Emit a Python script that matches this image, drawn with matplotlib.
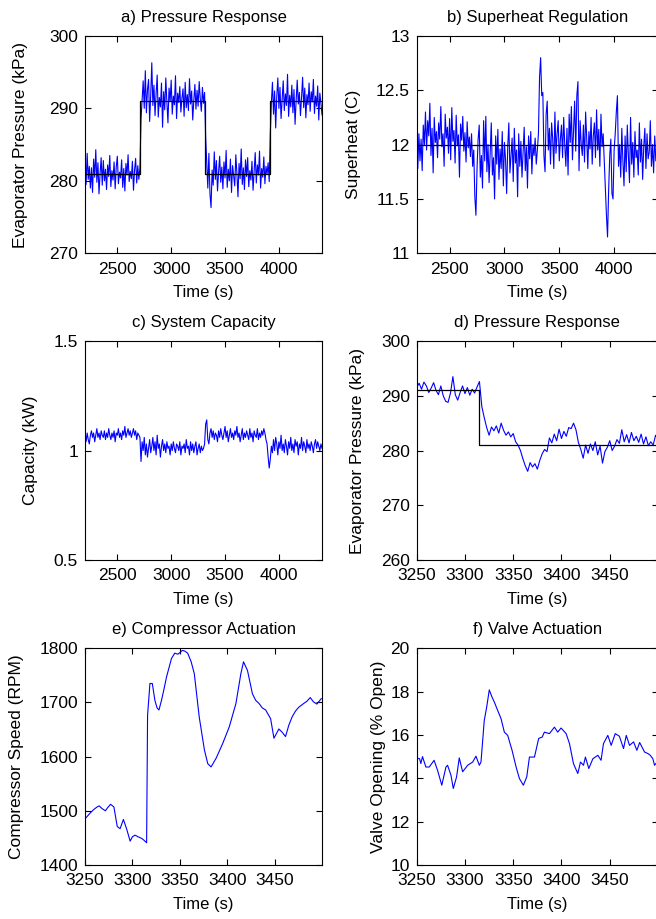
import numpy as np
import matplotlib
matplotlib.use("Agg")
import matplotlib.pyplot as plt
from matplotlib.ticker import FormatStrFormatter

plt.rcParams['font.family'] = ['Liberation Sans', 'DejaVu Sans']
plt.rcParams['font.size'] = 12

# a) evaporator pressure, 10 s samples from 2200 s to 4400 s
press_long = [
    281.5, 279.5, 283.8, 280.2, 282.0, 279.0, 281.8, 278.4, 283.0, 280.5,
    284.3, 279.8, 282.5, 278.2, 281.0, 283.2, 279.4, 282.8, 280.0, 281.6,
    278.8, 282.2, 280.6, 283.5, 279.2, 281.4, 280.1, 282.6, 278.9, 281.9,
    283.4, 279.6, 281.2, 280.4, 282.9, 279.1, 281.7, 278.6, 282.4, 280.8,
    283.6, 279.9, 281.3, 280.3, 282.7, 278.7, 281.5, 283.1, 279.7, 282.1,
    280.2, 281.8,
    288.5, 291.2, 293.8, 290.0, 295.2, 289.4, 292.6, 294.0, 288.2, 291.8,
    296.3, 290.4, 293.2, 289.0, 292.0, 294.6, 288.8, 291.5, 290.2, 293.5,
    287.4, 292.3, 289.8, 294.2, 290.9, 288.0, 292.8, 291.0, 293.9, 289.2,
    291.7, 290.5, 294.5, 288.6, 292.1, 290.8, 293.0, 289.5, 291.4, 292.7,
    288.9, 293.6, 290.1, 291.9, 289.7, 294.1, 290.6, 292.4, 288.4, 291.1,
    293.3, 289.9, 292.5, 290.3, 293.7, 291.3, 289.6, 292.9, 290.7, 292.2,
    286.0, 282.5, 279.0, 283.8, 278.2, 276.3, 281.5, 279.4, 284.0, 280.2,
    282.8, 278.6, 281.2, 283.4, 279.8, 281.9, 278.9, 282.6, 280.4, 284.2,
    279.1, 281.6, 280.0, 283.0, 278.4, 282.1, 280.7, 279.3, 283.6, 281.0,
    277.8, 282.4, 280.3, 284.4, 279.5, 281.8, 278.8, 282.9, 280.6, 283.2,
    279.2, 281.4, 280.1, 282.7, 278.7, 281.3, 283.9, 279.7, 282.2, 280.8,
    284.1, 279.0, 281.7, 280.5, 283.3, 279.6, 282.0, 280.9, 282.5, 279.9,
    286.5, 290.8, 293.6, 289.2, 292.4, 287.3, 291.6, 294.2, 290.0, 292.9,
    288.6, 291.3, 293.8, 289.7, 292.0, 290.4, 294.7, 288.9, 291.8, 290.2,
    293.2, 289.4, 292.6, 287.8, 291.1, 293.9, 290.6, 292.2, 289.0, 291.5,
    294.3, 290.1, 292.8, 288.7, 291.9, 290.5, 293.5, 289.6, 292.3, 290.9,
    294.0, 289.3, 291.7, 290.3, 293.1, 288.4, 292.1, 290.7, 289.1,
]
sp_time = [2200, 2715, 2715, 3315, 3315, 3915, 3915, 4400]
sp_press = [281, 281, 291, 291, 281, 281, 291, 291]

# b) superheat
superheat = [
    12.45, 11.78, 12.10, 11.85, 12.05, 11.76, 12.18, 12.00, 12.30, 11.95,
    12.22, 12.08, 12.38, 11.90, 12.15, 11.74, 12.25, 12.02, 12.12, 11.88,
    12.20, 12.05, 12.35, 11.98, 12.10, 11.80, 12.28, 12.06, 12.16, 11.92,
    12.24, 11.86, 12.34, 12.03, 12.13, 11.83, 12.27, 11.99, 12.09, 11.70,
    12.19, 12.04, 12.26, 11.94, 12.11, 11.84, 12.21, 11.97, 12.07, 11.89,
    12.10, 11.80, 11.95, 11.52, 11.35, 11.78, 12.05, 12.18, 11.70, 11.90,
    11.60, 12.22, 11.85, 12.26, 11.75, 12.00, 11.65, 11.92, 12.20, 11.72,
    11.88, 11.50, 12.08, 11.82, 12.14, 11.68, 11.96, 11.78, 12.12, 11.62,
    12.02, 11.86, 11.55, 11.98, 12.20, 11.74, 11.90, 12.06, 11.66, 12.15,
    11.83, 11.95, 11.52, 12.10, 11.80, 12.03, 11.70, 11.93, 12.16, 11.76,
    11.98, 11.60, 12.08, 11.87, 12.12, 11.73, 12.00, 11.90, 12.06, 11.82,
    11.95, 12.10,
    12.62, 12.80, 12.45, 12.48, 11.90, 11.75, 12.28, 12.40, 11.95, 12.15,
    11.82, 12.20, 12.05, 11.78, 12.30, 11.92, 12.10, 12.22, 11.85, 12.05,
    12.18, 11.88, 12.25, 12.00, 11.80, 12.15, 11.72, 12.28, 12.02, 12.35,
    11.86, 12.12, 12.40, 11.94, 12.45, 12.58, 11.76, 12.22, 12.00, 11.90,
    12.18, 11.84, 12.30, 12.06, 11.78, 12.12, 11.96, 12.25, 11.82, 12.08,
    12.20, 11.88, 12.32, 11.95, 12.14, 11.80, 12.28, 11.98, 12.10, 11.86,
    11.60, 11.35, 11.15, 11.58, 11.90, 12.05, 11.55, 11.50, 11.95, 12.10,
    12.30, 12.45, 11.80, 12.00, 11.70, 12.15, 11.85, 11.62, 12.08, 11.75,
    12.18, 11.90, 11.65, 12.25, 11.82, 12.02, 11.70, 12.12, 11.88, 11.95,
    11.72, 12.20, 11.84, 12.05, 11.68, 11.98, 12.15, 11.78, 12.10, 11.87,
    11.93, 12.22, 11.80, 12.00, 11.74, 12.08, 11.85, 11.96, 11.90,
]
sh_time = [2200, 4400]
sh_set = [12, 12]

# c) capacity
capacity = [
    1.09, 1.04, 1.08, 1.05, 1.03, 1.07, 1.09, 1.06, 1.08, 1.04,
    1.07, 1.10, 1.06, 1.08, 1.05, 1.09, 1.07, 1.06, 1.09, 1.05,
    1.08, 1.06, 1.10, 1.07, 1.05, 1.08, 1.06, 1.09, 1.04, 1.08,
    1.07, 1.10, 1.06, 1.08, 1.05, 1.09, 1.07, 1.11, 1.06, 1.08,
    1.10, 1.07, 1.09, 1.06, 1.08, 1.10, 1.07, 1.09, 1.05, 1.08,
    1.07, 1.06,
    0.95, 1.04, 1.00, 1.06, 0.98, 1.03, 0.97, 1.01, 1.05, 0.99,
    1.02, 1.06, 1.00, 1.04, 0.98, 1.07, 1.01, 1.03, 0.97, 1.02,
    1.05, 1.00, 1.03, 0.99, 1.04, 1.01, 1.02, 0.98, 1.03, 1.00,
    1.04, 1.01, 0.99, 1.03, 1.02, 1.00, 1.04, 0.98, 1.02, 1.01,
    1.03, 0.99, 1.05, 1.01, 1.02, 0.98, 1.04, 1.00, 1.03, 0.99,
    1.02, 1.04, 0.98, 1.01, 1.03, 0.99, 1.02, 1.00, 1.01, 1.03,
    1.12, 1.14, 1.05, 1.03, 1.08, 1.10, 1.06, 1.09, 1.05, 1.08,
    1.07, 1.04, 1.09, 1.06, 1.10, 1.07, 1.05, 1.08, 1.11, 1.06,
    1.09, 1.04, 1.07, 1.10, 1.06, 1.08, 1.05, 1.09, 1.07, 1.11,
    1.06, 1.08, 1.04, 1.07, 1.10, 1.05, 1.08, 1.06, 1.09, 1.07,
    1.05, 1.10, 1.06, 1.08, 1.04, 1.09, 1.07, 1.06, 1.10, 1.05,
    1.08, 1.06, 1.09, 1.07, 1.10, 1.08, 1.05, 1.03, 0.97, 0.92,
    0.96, 1.02, 0.99, 1.05, 1.00, 1.06, 1.03, 0.98, 1.04, 1.01,
    1.07, 1.00, 1.03, 0.99, 1.05, 1.02, 0.98, 1.04, 1.01, 1.06,
    1.00, 1.03, 0.99, 1.05, 1.02, 1.04, 0.98, 1.03, 1.01, 1.06,
    1.00, 1.04, 1.02, 0.99, 1.05, 1.01, 1.03, 1.00, 1.04, 1.02,
    0.99, 1.03, 1.05, 1.01, 1.04, 1.02, 1.00, 1.03, 1.01,
]

# d) pressure zoom, 2.5 s samples from 3250 s to 3500 s
press_zoom = [
    291.5, 292.3, 291.2, 292.5, 291.8, 290.6, 291.4, 292.4, 291.0, 290.2,
    291.8, 290.0, 289.0, 288.8, 290.5, 293.5, 290.2, 289.2, 290.6, 291.8,
    290.4, 291.5, 290.1, 291.2, 290.5, 291.6, 292.6, 288.0, 286.0, 284.2,
    282.8, 284.3, 283.6, 284.5, 283.2, 285.0, 283.7, 282.8, 283.4, 282.5,
    283.1, 281.6, 281.0, 280.0, 278.5, 277.2, 276.2, 277.8, 277.0, 277.6,
    276.6, 278.2, 279.4, 280.2, 279.8, 282.3, 281.4, 283.0, 281.8, 283.9,
    282.2, 283.5, 282.6, 284.2, 284.0, 285.0, 283.8, 281.5, 280.2, 278.6,
    281.0, 279.5, 281.2, 280.0, 281.6, 279.2, 280.8, 277.7, 279.8, 280.6,
    281.8, 280.0, 280.8, 282.0, 281.3, 283.8, 281.6, 282.9, 281.4, 283.3,
    281.8, 282.6, 281.5, 283.0, 281.2, 282.5, 280.9, 281.6, 281.0, 282.8,
    281.9,
]
spz_time = [3250, 3315, 3315, 3500]
spz_press = [291, 291, 281, 281]

# e) compressor speed
comp_t = [3250.5, 3255, 3259, 3262.7, 3265, 3268, 3271.5, 3274, 3277, 3280.5,
          3284, 3287, 3290.5, 3294, 3297.6, 3300, 3302.8, 3306, 3309.8, 3312,
          3315, 3316, 3318.5, 3321, 3323.7, 3326, 3328, 3330.7, 3333, 3336,
          3341.2, 3344.7, 3348, 3352.7, 3355, 3358.3, 3362, 3365.3, 3370.5, 3376,
          3379.5, 3383, 3388.3, 3395.2, 3402.2, 3409.2, 3414.4, 3417.2, 3421.4, 3426.6,
          3430, 3433.6, 3437, 3440.6, 3445.8, 3449.3, 3454.5, 3458, 3461.5, 3465,
          3468.4, 3472, 3475.4, 3480.6, 3484, 3487.6, 3491, 3494.6, 3499.2]
comp_rpm = [1486, 1495, 1502, 1507, 1509, 1504, 1500, 1506, 1512, 1507,
            1471, 1467, 1484, 1466, 1444, 1452, 1455, 1452, 1449, 1446,
            1441, 1676, 1735, 1735, 1704, 1690, 1686, 1704, 1722, 1747,
            1781, 1791, 1789, 1796, 1795, 1791, 1775, 1753, 1673, 1612,
            1587, 1581, 1597, 1624, 1655, 1698, 1753, 1775, 1759, 1716,
            1704, 1698, 1690, 1686, 1670, 1634, 1651, 1645, 1637, 1658,
            1673, 1684, 1691, 1698, 1702, 1709, 1701, 1697, 1707]

# f) valve opening
valve_t = [3250, 3253, 3254.3, 3256, 3259.5, 3263, 3268, 3271.6, 3276, 3280.3,
           3282, 3285.5, 3287.9, 3291.3, 3294.1, 3297.6, 3302.8, 3308, 3311.4, 3314.9,
           3316.6, 3320, 3322.5, 3325.2, 3328, 3330.4, 3333.9, 3337.4, 3340.8, 3344.3,
           3348.8, 3353, 3356.4, 3360.5, 3364, 3366.8, 3372, 3376.4, 3380, 3382.3,
           3387.5, 3392.7, 3396.1, 3399.6, 3404.8, 3408.3, 3412.4, 3416.9, 3419.7, 3422.8,
           3424.8, 3428.3, 3432.5, 3437.7, 3441, 3443.5, 3448, 3451.5, 3455.7, 3460,
           3464.3, 3467.1, 3470.5, 3474.7, 3478.1, 3481, 3486.1, 3489.6, 3492, 3494.7,
           3496.4, 3499]
valve_pct = [14.94, 14.9, 14.68, 15.0, 14.52, 14.52, 14.83, 14.37, 13.68, 14.52,
             14.6, 14.14, 13.53, 14.06, 14.94, 14.3, 14.6, 14.75, 15.02, 14.6,
             14.75, 16.67, 17.28, 18.08, 17.75, 17.52, 17.13, 16.75, 16.13, 15.98,
             15.29, 14.52, 13.99, 13.68, 14.06, 14.98, 14.98, 15.84, 15.9, 16.13,
             16.06, 16.36, 16.13, 16.32, 16.06, 15.6, 14.68, 14.22, 14.75, 14.6,
             14.98, 14.45, 14.9, 15.06, 14.83, 15.6, 15.98, 15.52, 16.06, 15.94,
             15.37, 15.98, 15.52, 15.68, 15.29, 15.65, 15.21, 15.14, 15.06, 14.9,
             14.6, 14.75]

t_long = np.linspace(2200, 4400, len(press_long))
t_zoom = np.linspace(3250, 3500, len(press_zoom))

blue = '#0000ff'
fig = plt.figure(figsize=(6.56, 9.19), dpi=100)

left_x, left_w = 85 / 656, 237 / 656
right_x, right_w = 416.7 / 656, 241.3 / 656
rows = [(0.7244, 0.2365), (0.3906, 0.2383), (0.0588, 0.2358)]


def setup(ax, title, ylabel, ylab_x):
    ax.set_title(title, fontsize=12, pad=10)
    ax.set_xlabel('Time (s)', fontsize=12, labelpad=6)
    ax.set_ylabel(ylabel, fontsize=12.5)
    ax.yaxis.set_label_coords(ylab_x, 0.5)
    ax.tick_params(direction='in', top=True, right=True, length=4, labelsize=12.5)
    ax.tick_params(axis='x', pad=6)
    ax.tick_params(axis='y', pad=5)
    ax.yaxis.set_major_formatter(FormatStrFormatter('%g'))
    for s in ax.spines.values():
        s.set_linewidth(0.8)


ax = fig.add_axes([left_x, rows[0][0], left_w, rows[0][1]])
ax.plot(t_long, press_long, color=blue, lw=0.8)
ax.plot(sp_time, sp_press, color='k', lw=0.9)
ax.set_xlim(2200, 4400)
ax.set_ylim(270, 300)
ax.set_xticks([2500, 3000, 3500, 4000])
ax.set_yticks([270, 280, 290, 300])
setup(ax, 'a) Pressure Response', 'Evaporator Pressure (kPa)', -0.24)

ax = fig.add_axes([right_x, rows[0][0], right_w, rows[0][1]])
ax.plot(np.linspace(2200, 4400, len(superheat)), superheat, color=blue, lw=0.8)
ax.plot(sh_time, sh_set, color='k', lw=0.9)
ax.set_xlim(2200, 4400)
ax.set_ylim(11, 13)
ax.set_xticks([2500, 3000, 3500, 4000])
ax.set_yticks([11, 11.5, 12, 12.5, 13])
setup(ax, 'b) Superheat Regulation', 'Superheat (C)', -0.231)

ax = fig.add_axes([left_x, rows[1][0], left_w, rows[1][1]])
ax.plot(np.linspace(2200, 4400, len(capacity)), capacity, color=blue, lw=0.8)
ax.set_xlim(2200, 4400)
ax.set_ylim(0.5, 1.5)
ax.set_xticks([2500, 3000, 3500, 4000])
ax.set_yticks([0.5, 1, 1.5])
setup(ax, 'c) System Capacity', 'Capacity (kW)', -0.198)

ax = fig.add_axes([right_x, rows[1][0], right_w, rows[1][1]])
ax.plot(t_zoom, press_zoom, color=blue, lw=0.8)
ax.plot(spz_time, spz_press, color='k', lw=0.9)
ax.set_xlim(3250, 3500)
ax.set_ylim(260, 300)
ax.set_xticks([3250, 3300, 3350, 3400, 3450])
ax.set_yticks([260, 270, 280, 290, 300])
setup(ax, 'd) Pressure Response', 'Evaporator Pressure (kPa)', -0.214)

ax = fig.add_axes([left_x, rows[2][0], left_w, rows[2][1]])
ax.plot(comp_t, comp_rpm, color=blue, lw=0.8)
ax.set_xlim(3250, 3500)
ax.set_ylim(1400, 1800)
ax.set_xticks([3250, 3300, 3350, 3400, 3450])
ax.set_yticks([1400, 1500, 1600, 1700, 1800])
setup(ax, 'e) Compressor Actuation', 'Compressor Speed (RPM)', -0.257)

ax = fig.add_axes([right_x, rows[2][0], right_w, rows[2][1]])
ax.plot(valve_t, valve_pct, color=blue, lw=0.8)
ax.set_xlim(3250, 3500)
ax.set_ylim(10, 20)
ax.set_xticks([3250, 3300, 3350, 3400, 3450])
ax.set_yticks([10, 12, 14, 16, 18, 20])
setup(ax, 'f) Valve Actuation', 'Valve Opening (% Open)', -0.127)

fig.savefig('out.png', dpi=100)
